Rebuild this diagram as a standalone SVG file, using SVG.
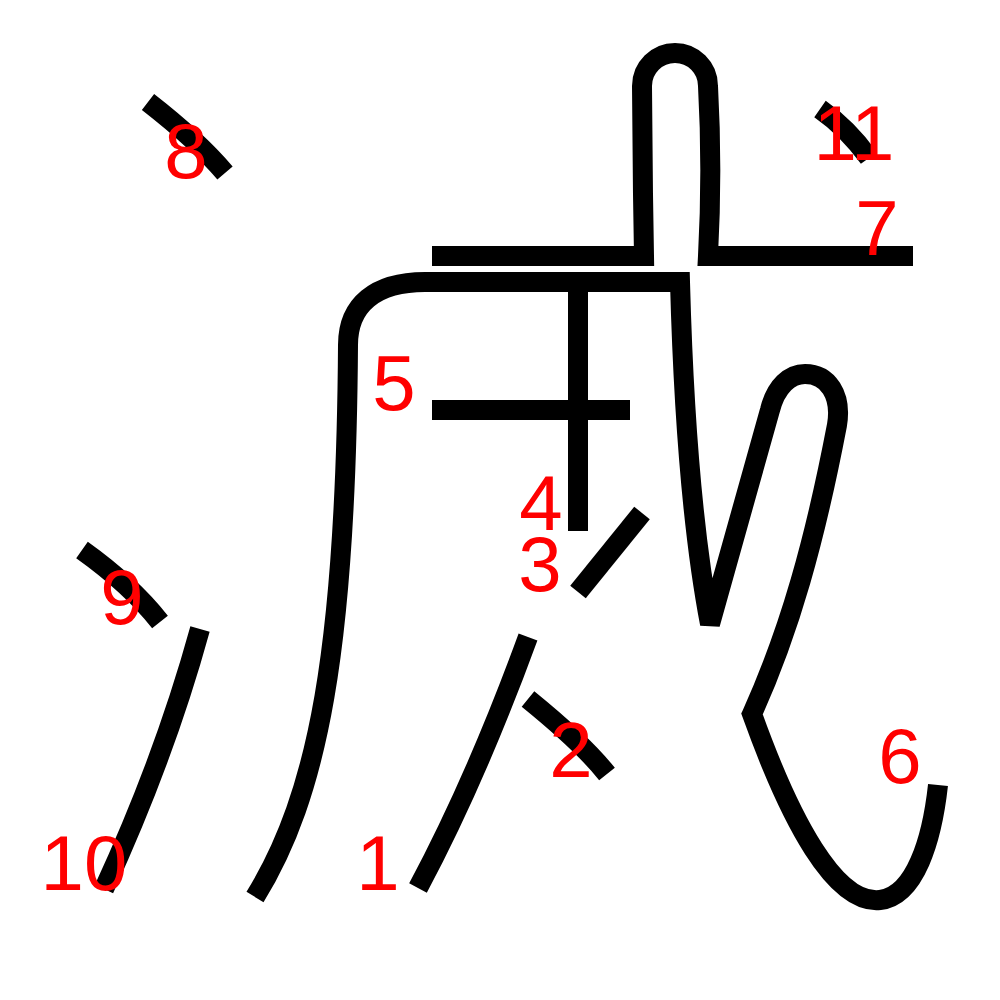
<svg xmlns="http://www.w3.org/2000/svg" width="1000" height="1000" viewBox="0 0 1000 1000">
<style>
.s{fill:none;stroke:#000;stroke-width:20;stroke-linecap:butt;stroke-linejoin:miter}
.n{fill:#f00;font-family:"Liberation Sans",Arial,sans-serif;font-size:78px;text-anchor:middle}
</style>
<rect width="1000" height="1000" fill="#fff"/>
<g id="strokes">
<path id="s1" class="s" d="M528,637 C505,700 465,800 418,888"/>
<path id="s2" class="s" d="M528,699 C560,725 588,750 607,774"/>
<path id="s3" class="s" d="M642,513 L578,592"/>
<path id="s4" class="s" d="M578,292 L578,531"/>
<path id="s5" class="s" d="M432,410 L630,410"/>
<path id="s6" class="s" d="M255,897 C318,795 346,650 348,345 C348,305 375,282 425,282 L680,282 C684,430 694,540 710,624 L770,410 C776,386 790,374 805,374 C828,374 842,395 837,425 C815,540 790,630 752,714 C790,820 835,905 880,900 C915,896 932,840 938,785"/>
<path id="s7" class="s" d="M432,256 L644,256 C643,200 642,130 642,86 A33,33 0 0 1 708,86 C711,140 711,200 708,256 L913,256"/>
<path id="s8" class="s" d="M148,102 C175,123 203,147 225,173"/>
<path id="s9" class="s" d="M82,550 C110,570 138,594 160,622"/>
<path id="s10" class="s" d="M200,629 C175,720 145,800 104,889"/>
<path id="s11" class="s" d="M820,109 C840,123 856,140 869,158"/>
</g>
<g id="labels">
<text class="n" x="378" y="890">1</text>
<text class="n" x="571" y="777">2</text>
<text class="n" x="540" y="591">3</text>
<text class="n" x="541" y="530">4</text>
<text class="n" x="394" y="410">5</text>
<text class="n" x="900" y="783">6</text>
<text class="n" x="877" y="255">7</text>
<text class="n" x="186" y="178">8</text>
<text class="n" x="122" y="624">9</text>
<text class="n" x="84" y="890">10</text>
<text class="n" x="854" y="160">11</text>
</g>
</svg>
